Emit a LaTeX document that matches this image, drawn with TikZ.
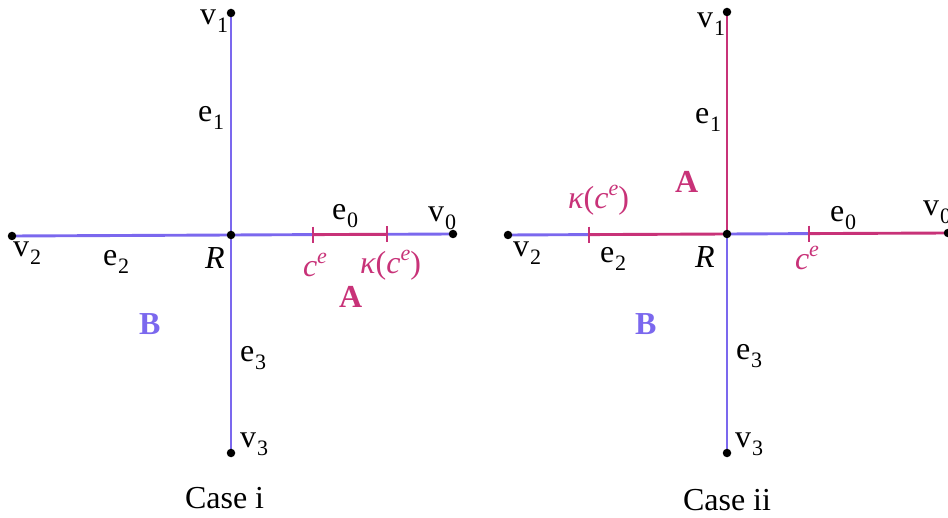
\documentclass[tikz,border=0pt]{standalone}
\usepackage{fontspec}
\setmainfont{Liberation Serif}
\definecolor{pur}{RGB}{123,104,238}
\definecolor{pnk}{RGB}{200,50,120}
\newcommand{\lbl}[2]{#1\hspace{1pt}\raisebox{-8pt}{\fontsize{22}{22}\selectfont #2}}
\newcommand{\cesym}{\textit{c}\raisebox{13pt}{\fontsize{22}{22}\selectfont\textit{e}}}
\newcommand{\kcesym}{\textit{κ}(\cesym)}
\begin{document}
\begin{tikzpicture}[x=1pt,y=-1pt,
  every node/.style={inner sep=0pt,outer sep=0pt,font=\fontsize{32}{32}\selectfont},
  lab/.style={anchor=base west},
  dot/.style={circle,fill=black,inner sep=0pt,minimum size=8.5pt},
  edgeline/.style={line width=2.9pt},
  tickline/.style={line width=2.9pt,pnk}]
\useasboundingbox (0,0) rectangle (948,518);
% ---------- Case i ----------
\coordinate (Ra) at (231,235);
\coordinate (a1) at (231,13);
\coordinate (a2) at (12,236);
\coordinate (a0) at (453,234);
\coordinate (a3) at (231,453);
\coordinate (ta) at (313,234.6);
\coordinate (tb) at (387,234.3);
\draw[edgeline,pur] (Ra) -- (a1);
\draw[edgeline,pur] (Ra) -- (a2);
\draw[edgeline,pur] (Ra) -- (a3);
\draw[edgeline,pur] (Ra) -- (ta);
\draw[edgeline,pnk] (ta) -- (tb);
\draw[edgeline,pur] (tb) -- (a0);
\draw[tickline] (ta) ++(0,-8) -- ++(0,16);
\draw[tickline] (tb) ++(0,-8) -- ++(0,16);
\node[dot] (dRa) at (Ra) {};
\node[dot] (da1) at (a1) {};
\node[dot] (da2) at (a2) {};
\node[dot] (da0) at (a0) {};
\node[dot] (da3) at (a3) {};
\node[lab] (la1) at (200,25) {\lbl{v}{1}};
\node[lab] (le1) at (198,122) {\lbl{e}{1}};
\node[lab] (le0) at (332,220) {\lbl{e}{0}};
\node[lab] (la0) at (428,222) {\lbl{v}{0}};
\node[lab] (la2) at (13,257) {\lbl{v}{2}};
\node[lab] (le2) at (103,266) {\lbl{e}{2}};
\node[lab] (lRa) at (205,269) {\textit{R}};
\node[lab,text=pnk] (lca) at (303,277) {\cesym};
\node[lab,text=pnk] (lka) at (360,274) {\kcesym};
\node[lab,text=pnk] (lAa) at (339,308) {\textbf{A}};
\node[lab,text=pur] (lBa) at (139,335) {\textbf{B}};
\node[lab] (le3) at (240,362) {\lbl{e}{3}};
\node[lab] (la3) at (240,448) {\lbl{v}{3}};
\node[lab] (casei) at (185,508) {Case i};
% ---------- Case ii ----------
\coordinate (Rb) at (727,234);
\coordinate (b1) at (727,12);
\coordinate (b2) at (508,235);
\coordinate (b0) at (948,233);
\coordinate (b3) at (727,453);
\coordinate (tc) at (589,234.6);
\coordinate (td) at (809,233.6);
\draw[edgeline,pnk] (Rb) -- (b1);
\draw[edgeline,pur] (b2) -- (tc);
\draw[edgeline,pnk] (tc) -- (Rb);
\draw[edgeline,pur] (Rb) -- (td);
\draw[edgeline,pnk] (td) -- (b0);
\draw[edgeline,pur] (Rb) -- (b3);
\draw[tickline] (tc) ++(0,-8) -- ++(0,16);
\draw[tickline] (td) ++(0,-8) -- ++(0,16);
\node[dot] (dRb) at (Rb) {};
\node[dot] (db1) at (b1) {};
\node[dot] (db2) at (b2) {};
\node[dot] (db0) at (b0) {};
\node[dot] (db3) at (b3) {};
\node[lab] (lb1) at (697,28) {\lbl{v}{1}};
\node[lab] (lf1) at (695,124) {\lbl{e}{1}};
\node[lab,text=pnk] (lAb) at (675,193) {\textbf{A}};
\node[lab,text=pnk] (lkb) at (568,209) {\kcesym};
\node[lab] (lf0) at (830,222) {\lbl{e}{0}};
\node[lab] (lb0) at (923,216) {\lbl{v}{0}};
\node[lab] (lb2) at (513,257) {\lbl{v}{2}};
\node[lab] (lf2) at (600,263) {\lbl{e}{2}};
\node[lab] (lRb) at (695,268) {\textit{R}};
\node[lab,text=pnk] (lcb) at (795,270) {\cesym};
\node[lab,text=pur] (lBb) at (635,335) {\textbf{B}};
\node[lab] (lf3) at (736,360) {\lbl{e}{3}};
\node[lab] (lb3) at (735,447) {\lbl{v}{3}};
\node[lab] (caseii) at (683,510) {Case ii};
\end{tikzpicture}
\end{document}
